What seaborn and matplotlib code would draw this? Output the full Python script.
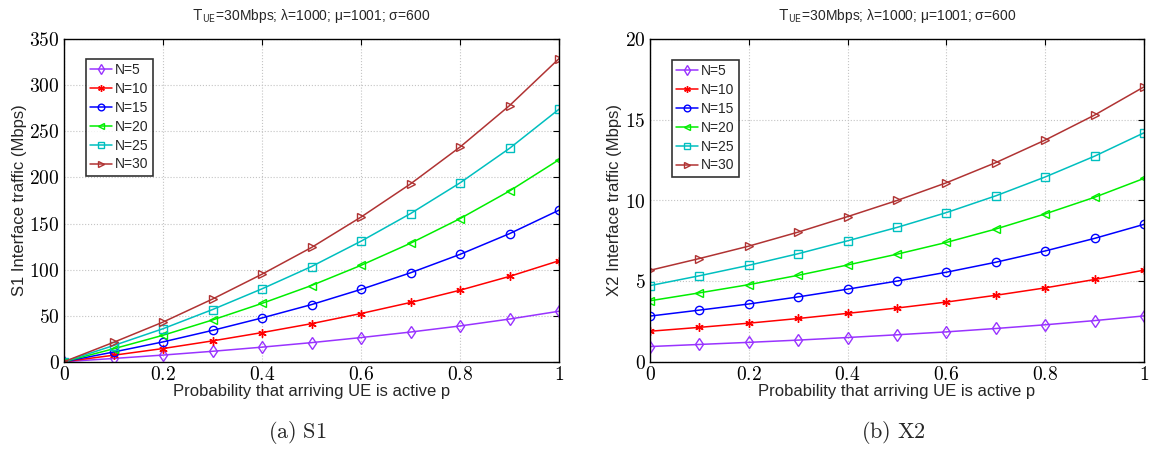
import numpy as np
import pandas as pd
import matplotlib
matplotlib.use("Agg")
import matplotlib.pyplot as plt
import seaborn as sns
from matplotlib.ticker import FuncFormatter

# probability that an arriving UE is active
p_values = [0.0, 0.1, 0.2, 0.3, 0.4, 0.5, 0.6, 0.7, 0.8, 0.9, 1.0]
n_labels = ["N=5", "N=10", "N=15", "N=20", "N=25", "N=30"]

# S1 interface traffic (Mbps)
s1_n5 = [0, 3.5, 7.2, 11.3, 15.8, 20.7, 26.2, 32.2, 38.8, 46.3, 54.8]
s1_n10 = [0, 7, 14.3, 22.6, 31.6, 41.3, 52.3, 64.3, 77.6, 92.6, 109.6]
s1_n15 = [0, 10.5, 21.5, 34, 47.5, 62, 78.5, 96.5, 116.5, 139, 164.5]
s1_n20 = [0, 14, 28.7, 45.3, 63.3, 82.7, 104.6, 128.6, 155.3, 185.3, 219.3]
s1_n25 = [0, 17.5, 35.8, 56.6, 79.1, 103.3, 130.8, 160.8, 194.1, 231.6, 274.1]
s1_n30 = [0, 21, 43, 68, 95, 124, 157, 193, 233, 278, 329]

# X2 interface traffic (Mbps)
x2_n5 = [0.94, 1.07, 1.2, 1.34, 1.5, 1.67, 1.85, 2.06, 2.29, 2.55, 2.84]
x2_n10 = [1.89, 2.13, 2.39, 2.68, 3.0, 3.33, 3.7, 4.12, 4.58, 5.1, 5.68]
x2_n15 = [2.83, 3.2, 3.58, 4.02, 4.5, 5.0, 5.55, 6.17, 6.87, 7.65, 8.52]
x2_n20 = [3.78, 4.27, 4.78, 5.36, 6.0, 6.67, 7.4, 8.23, 9.17, 10.2, 11.37]
x2_n25 = [4.72, 5.33, 5.98, 6.7, 7.5, 8.33, 9.25, 10.29, 11.46, 12.75, 14.2]
x2_n30 = [5.67, 6.4, 7.17, 8.04, 9.0, 10.0, 11.1, 12.35, 13.75, 15.3, 17.05]

s1_series = [s1_n5, s1_n10, s1_n15, s1_n20, s1_n25, s1_n30]
x2_series = [x2_n5, x2_n10, x2_n15, x2_n20, x2_n25, x2_n30]

colors = ["#9933ff", "#ff0000", "#0000ff", "#00ee00", "#00bfbf", "#b03333"]
markers = ["d", (6, 2, 0), "o", "<", "s", ">"]

sns.set_style("white")
plt.rcParams["font.family"] = ["Liberation Sans", "DejaVu Sans"]
plt.rcParams["mathtext.fontset"] = "cm"

title = r"$\mathsf{T_{UE}}$=30Mbps; λ=1000; μ=1001; σ=600"

fig = plt.figure(figsize=(11.53, 4.5), dpi=100)
ax1 = fig.add_axes([64 / 1153, 88.3 / 450, 495 / 1153, 322.4 / 450])
ax2 = fig.add_axes([650 / 1153, 88.3 / 450, 494 / 1153, 322.4 / 450])


def draw_panel(ax, series, ylabel, ymax, ystep, leg_anchor):
    for vals, lab, col, mk in zip(series, n_labels, colors, markers):
        sns.lineplot(x=p_values, y=vals, ax=ax, color=col, marker=mk,
                     markersize=6, markerfacecolor="none",
                     markeredgecolor=col, markeredgewidth=1.0,
                     linewidth=1.1, label=lab)
    ax.set_xlim(0, 1)
    ax.set_ylim(0, ymax)
    ax.set_xticks(np.arange(0, 1.01, 0.2))
    ax.set_yticks(np.arange(0, ymax + 0.01, ystep))
    fmt = FuncFormatter(lambda v, pos: r"$\mathrm{%g}$" % round(v, 2))
    ax.xaxis.set_major_formatter(fmt)
    ax.yaxis.set_major_formatter(fmt)
    ax.tick_params(direction="in", length=4, width=0.8, top=True,
                   right=True, labelsize=14, pad=3, colors="black")
    ax.grid(True, linestyle=":", color="#c4c4c4", linewidth=0.8)
    for sp in ax.spines.values():
        sp.set_color("black")
        sp.set_linewidth(1.0)
    ax.set_xlabel("Probability that arriving UE is active p", fontsize=12,
                  labelpad=0)
    ax.set_ylabel(ylabel, fontsize=12, labelpad=2)
    ax.set_title(title, fontsize=10, pad=14)
    leg = ax.legend(loc="upper left", bbox_to_anchor=leg_anchor,
                    fontsize=10, frameon=True, fancybox=False,
                    handlelength=1.6, handletextpad=0.2, labelspacing=0.35,
                    borderpad=0.3, borderaxespad=0, markerscale=0.8)
    leg.get_frame().set_edgecolor("black")
    leg.get_frame().set_linewidth(1.2)


draw_panel(ax1, s1_series, "S1 Interface traffic (Mbps)", 350, 50,
           (0.044, 0.939))
draw_panel(ax2, x2_series, "X2 Interface traffic (Mbps)", 20, 5,
           (0.0445, 0.936))

fig.text(297 / 1153, 1 - 432 / 450, r"$\mathrm{(a)\ S1}$", fontsize=16,
         ha="center", va="center")
fig.text(893 / 1153, 1 - 432 / 450, r"$\mathrm{(b)\ X2}$", fontsize=16,
         ha="center", va="center")

fig.savefig("out.png", dpi=100)
